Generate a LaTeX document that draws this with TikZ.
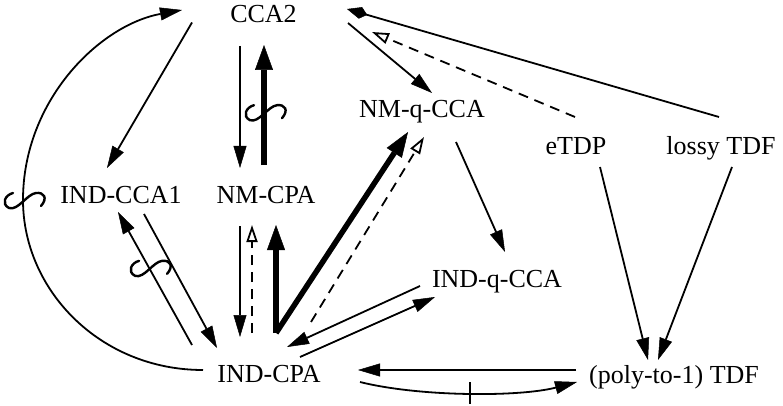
\documentclass[tikz,border=0pt]{standalone}
\usepackage{fontspec}
\setmainfont{Liberation Serif}
\usetikzlibrary{arrows.meta}

\tikzset{
  lbl/.style={anchor=base, inner sep=0pt, font=\fontsize{26}{30}\selectfont},
  imp/.style={line width=1.8pt, -{Triangle[length=22pt,width=13pt,line width=0.5pt]}},
  kiteimp/.style={line width=1.8pt, -{Kite[length=21pt,width=12pt,inset=7pt,line width=0.5pt]}},
  strong/.style={line width=5.5pt, -{Triangle[length=25pt,width=18pt,line width=0.5pt]}},
  weak/.style={line width=1.8pt, dash pattern=on 10pt off 7pt,
    -{Triangle[open,length=17pt,width=11pt,line width=1.8pt]}},
  notimp/.pic={
    \draw[line width=2.4pt, line cap=round]
      (-10,-7) .. controls (-18,-5) and (-22,4) .. (-14,8)
      .. controls (-5,11) and (4,-6) .. (13,-7)
      .. controls (21,-8) and (25,-2) .. (18,6);
  }
}

\begin{document}
\begin{tikzpicture}[x=1pt,y=-1pt]
\useasboundingbox (0,0) rectangle (783,406);

% notions
\node[lbl] (cca2)    at (263.5,22.5) {CCA2};
\node[lbl] (nmqcca)  at (422,118)    {NM-q-CCA};
\node[lbl] (etdp)    at (576,154)    {eTDP};
\node[lbl] (lossy)   at (721,154)    {lossy TDF};
\node[lbl] (indcca1) at (121,203)    {IND-CCA1};
\node[lbl] (nmcpa)   at (266,203)    {NM-CPA};
\node[lbl] (indqcca) at (497,287)    {IND-q-CCA};
\node[lbl] (indcpa)  at (269,382)    {IND-CPA};
\node[lbl] (tdf)     at (674,383)    {(poly-to-1) TDF};

\coordinate (arcw) at (23,200);

% CCA2 and its neighbours
\draw[imp] ([shift={(-71.5,0)}]cca2.base) -- ([shift={(-14,-35)}]indcca1.base);
\draw[imp] ([shift={(-23.5,23.5)}]cca2.base) -- ([shift={(-26,-35)}]nmcpa.base);
\draw[strong] ([shift={(-2,-38)}]nmcpa.base) -- ([shift={(0.5,22.5)}]cca2.base)
  coordinate[pos=0.44] (sq2);
\draw[imp] ([shift={(84.5,0.5)}]cca2.base) -- ([shift={(10,-25)}]nmqcca.base);
\draw[weak] ([shift={(-1,-37)}]etdp.base) -- ([shift={(108.5,9.5)}]cca2.base);
\draw[kiteimp] ([shift={(-2,-37)}]lossy.base) -- ([shift={(83.5,-13.5)}]cca2.base);

% long arc from IND-CPA up to CCA2
\draw[imp] ([shift={(-66,-12)}]indcpa.base)
  .. controls (100,370) and (23,290) .. (arcw) coordinate (sq1)
  .. controls (23,100) and (100,25) .. ([shift={(-81.5,-12.5)}]cca2.base);

% IND-CCA1 and IND-CPA
\draw[imp] ([shift={(-77,-37)}]indcpa.base) -- ([shift={(-3,9)}]indcca1.base)
  coordinate[pos=0.58] (sq3);
\draw[imp] ([shift={(23,11)}]indcca1.base) -- ([shift={(-52,-34)}]indcpa.base);

% NM-CPA and IND-CPA
\draw[imp] ([shift={(-26,23)}]nmcpa.base) -- ([shift={(-29,-45)}]indcpa.base);
\draw[weak] ([shift={(-17,-49)}]indcpa.base) -- ([shift={(-14,22)}]nmcpa.base);
\draw[strong] ([shift={(7,-49)}]indcpa.base) -- ([shift={(10,22)}]nmcpa.base);

% NM-q-CCA and IND-q-CCA
\draw[strong] ([shift={(7,-49)}]indcpa.base) -- ([shift={(-14,14)}]nmqcca.base);
\draw[weak] ([shift={(42,-60)}]indcpa.base) -- ([shift={(2,19)}]nmqcca.base);
\draw[imp] ([shift={(34,24)}]nmqcca.base) -- ([shift={(8,-35)}]indqcca.base);
\draw[imp] ([shift={(-77,-1)}]indqcca.base) -- ([shift={(18,-35)}]indcpa.base);
\draw[imp] ([shift={(31,-25)}]indcpa.base) -- ([shift={(-62,10)}]indqcca.base);

% trapdoor functions
\draw[imp] ([shift={(24,13)}]etdp.base) -- ([shift={(-26,-23)}]tdf.base);
\draw[imp] ([shift={(11,13)}]lossy.base) -- ([shift={(-16,-23)}]tdf.base);
\draw[imp] ([shift={(-98,-13)}]tdf.base) -- ([shift={(89,-12)}]indcpa.base);
\draw[imp] ([shift={(91,0)}]indcpa.base) .. controls +(60,15) and +(-57,15) ..
  ([shift={(-97,-1)}]tdf.base) coordinate[pos=0.5] (tick);
\draw[line width=1.8pt] ([yshift=11pt]tick) -- ([yshift=-11pt]tick);

% separations
\pic at (sq1) {notimp};
\pic at (sq2) {notimp};
\pic at (sq3) {notimp};
\end{tikzpicture}
\end{document}
